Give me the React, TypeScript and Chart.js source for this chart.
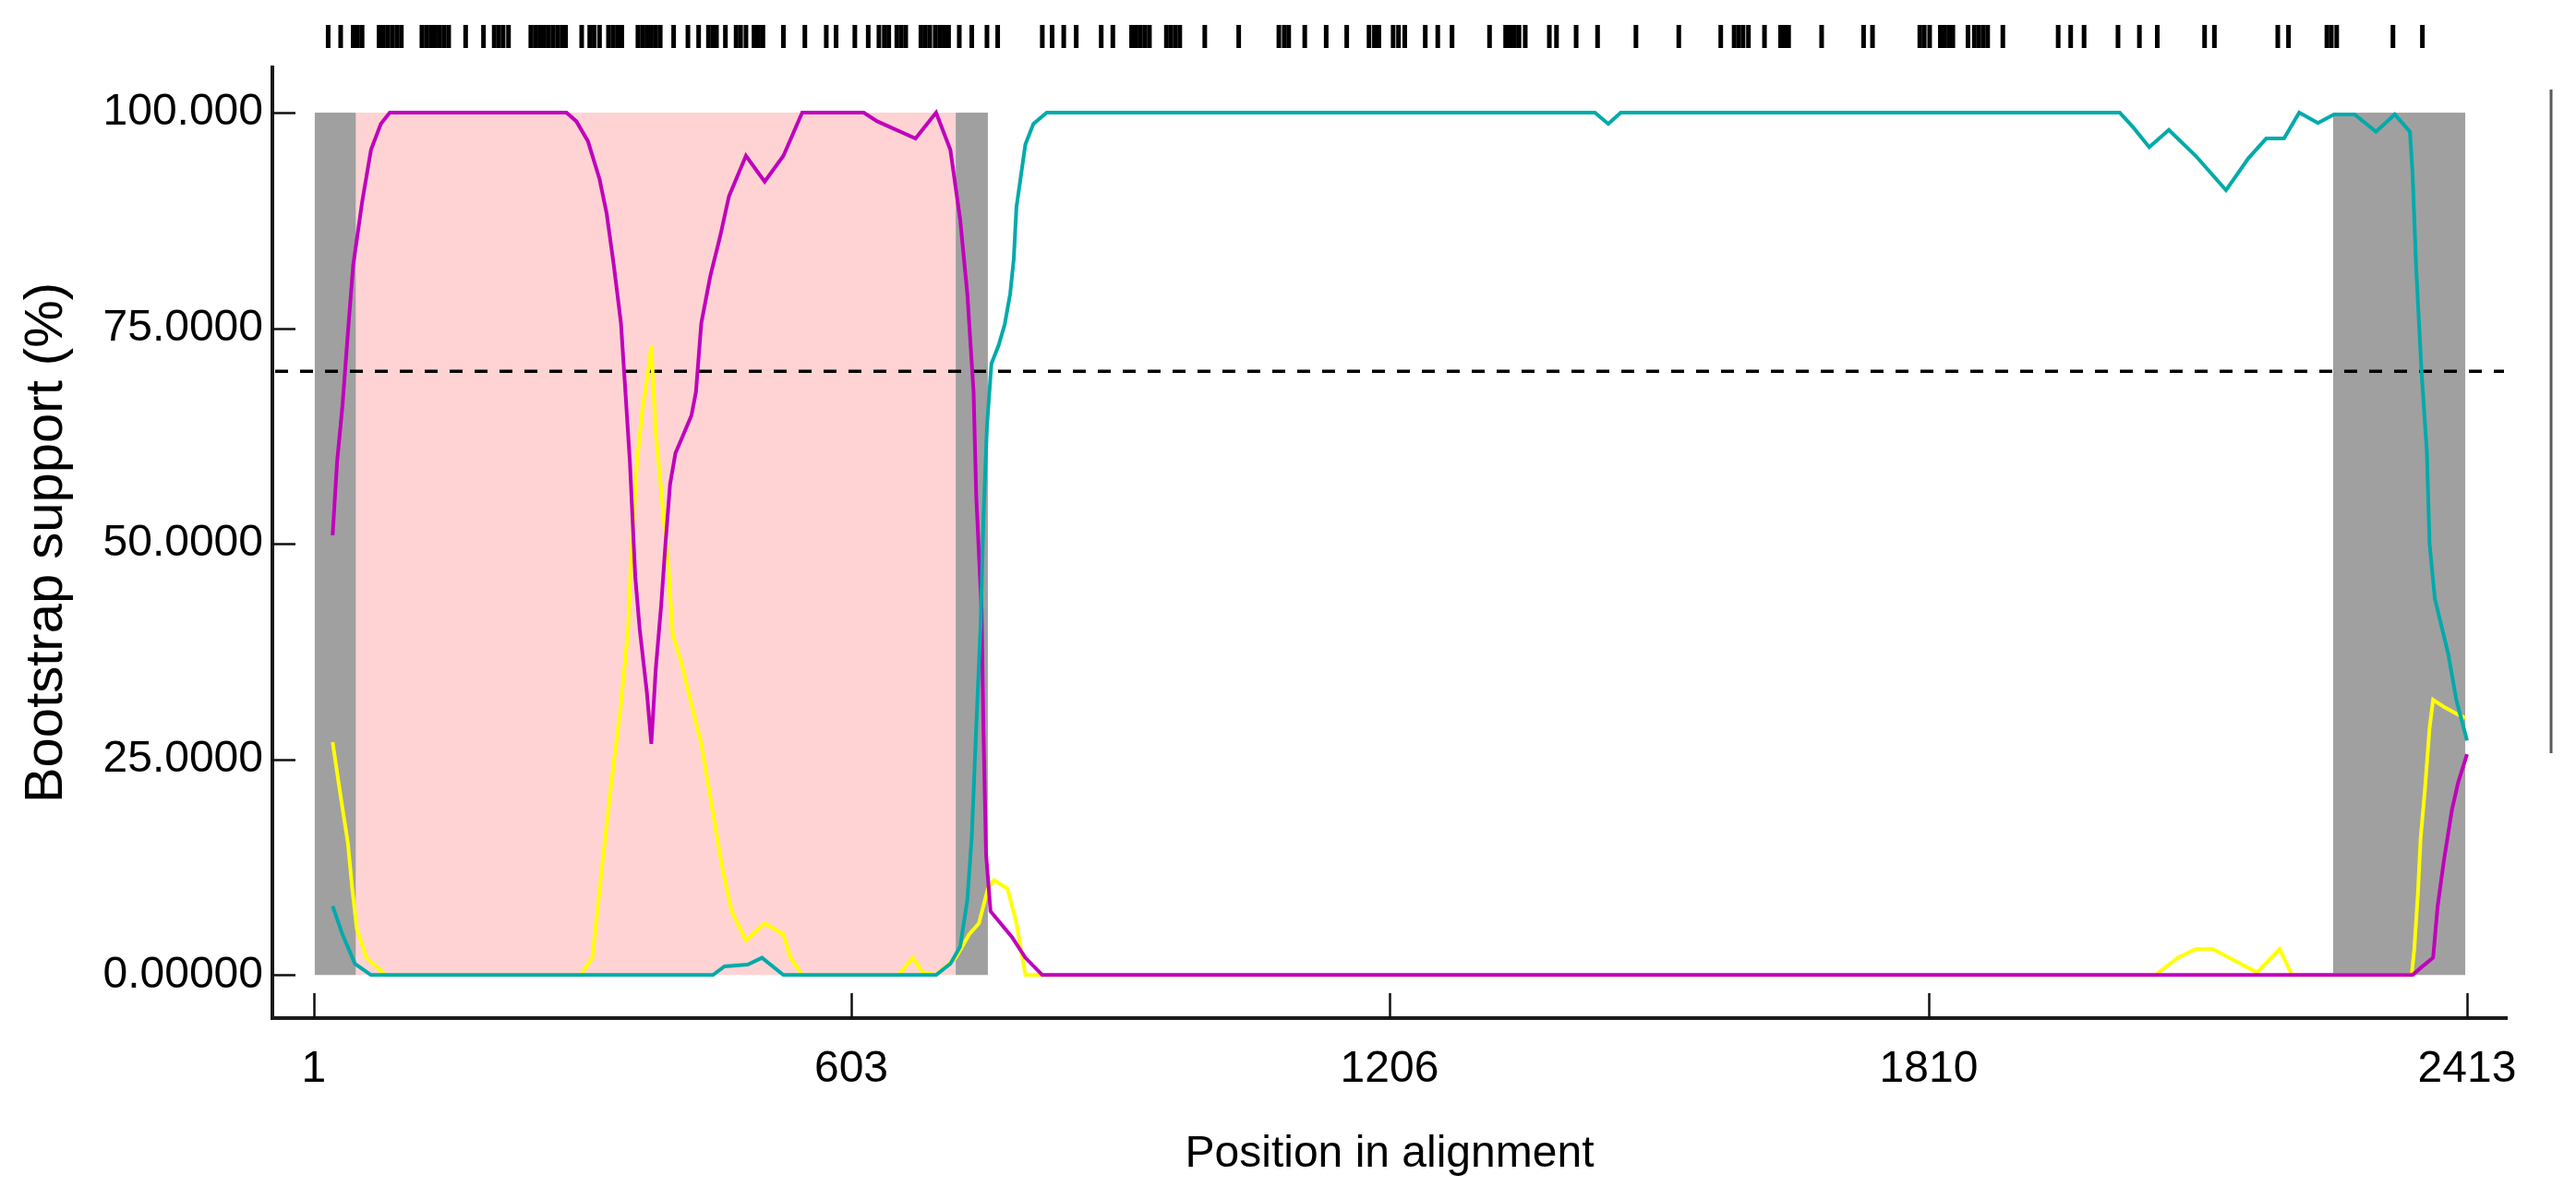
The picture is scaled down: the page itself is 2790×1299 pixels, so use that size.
import React, { useEffect, useRef } from 'react';
import { Chart, registerables } from 'chart.js';

Chart.register(...registerables);

// ---- Data ----
const purplePos = [22, 27, 33, 39, 45, 55, 65, 76, 86, 284, 295, 308, 321, 329, 337, 345, 350, 355, 361, 366, 374, 379, 384, 390, 395, 400, 406, 413, 424, 429, 435, 445, 456, 466, 485, 506, 527, 548, 617, 632, 675, 698, 714, 725, 733, 740, 743, 749, 751, 754, 759, 783, 798, 817, 2352, 2362, 2375, 2380, 2387, 2396, 2403, 2413];
const purpleVals = [51, 59.5, 66, 74.3, 82.3, 89.6, 95.7, 98.7, 100, 100, 99, 96.7, 92.3, 88.3, 82.3, 75.6, 67.6, 59.5, 46.2, 40.1, 32.8, 26.8, 35.5, 42.8, 50.2, 56.9, 60.5, 62.2, 64.9, 67.6, 75.6, 81, 85.6, 90.3, 95, 92, 95, 100, 100, 99, 97, 100, 95.7, 87.6, 79, 67.6, 55.5, 42.2, 28.8, 14, 7.4, 4.4, 2, 0, 0, 0.9, 2, 7.9, 13.2, 19.1, 22.3, 25.6];

const cyanPos = [22, 33, 47, 65, 448, 461, 487, 503, 527, 698, 714, 725, 733, 738, 743, 748, 751, 755, 760, 768, 775, 781, 785, 788, 798, 807, 822, 1436, 1451, 1465, 2024, 2039, 2057, 2079, 2109, 2143, 2168, 2188, 2208, 2225, 2246, 2264, 2287, 2311, 2332, 2349, 2352, 2356, 2362, 2368, 2371, 2377, 2392, 2401, 2413];
const cyanVals = [8, 4.7, 1.3, 0, 0, 1, 1.2, 2, 0, 0, 1.3, 3.3, 8.7, 16.1, 28.8, 40.8, 52.8, 63.6, 70.9, 73, 75.5, 79, 83, 89, 96.3, 98.7, 100, 100, 98.7, 100, 100, 98.3, 96, 98, 95, 91, 94.7, 97, 97, 100, 98.8, 99.8, 99.8, 97.8, 99.8, 97.8, 92.9, 82, 70, 60.7, 50, 43.6, 37.2, 31.9, 27.2];

const yellowPos = [22, 31, 39, 44, 49, 60, 81, 300, 313, 324, 334, 345, 353, 356, 363, 369, 374, 379, 384, 390, 398, 403, 413, 424, 435, 445, 458, 469, 485, 506, 527, 535, 548, 656, 672, 683, 698, 720, 735, 746, 756, 763, 778, 788, 798, 2064, 2089, 2109, 2128, 2178, 2203, 2217, 2351, 2354, 2358, 2361, 2366, 2371, 2375, 2387, 2401, 2411];
const yellowVals = [27, 20.7, 15.4, 10, 5.4, 2, 0, 0, 2, 12.7, 22.1, 31.4, 40.1, 47.5, 59.5, 65.6, 68.9, 72.9, 62.9, 56.2, 47.5, 39.5, 36.1, 31.4, 26.8, 20.7, 12.7, 7.4, 4, 6, 4.7, 2, 0, 0, 2, 0.3, 0, 2, 4.7, 6, 10, 11, 10, 6, 0, 0, 2, 3, 3, 0.3, 3, 0, 0, 3.1, 9.5, 15.8, 21.7, 28.6, 31.9, 31.1, 30.3, 29.8];

const informativeSites = [17, 31, 45, 50, 55, 74, 79, 84, 89, 94, 99, 122, 127, 132, 137, 142, 147, 152, 171, 191, 203, 208, 213, 219, 244, 249, 254, 259, 264, 269, 274, 279, 283, 301, 310, 315, 321, 331, 336, 341, 346, 364, 369, 374, 379, 384, 389, 404, 420, 432, 443, 448, 452, 462, 474, 479, 485, 494, 499, 504, 527, 551, 575, 586, 607, 622, 634, 640, 645, 654, 659, 664, 681, 686, 691, 697, 702, 707, 712, 724, 738, 755, 767, 817, 828, 841, 855, 883, 896, 917, 922, 927, 932, 937, 956, 961, 966, 971, 999, 1037, 1082, 1088, 1093, 1111, 1135, 1158, 1183, 1189, 1194, 1210, 1216, 1223, 1246, 1260, 1276, 1318, 1336, 1341, 1346, 1351, 1358, 1385, 1393, 1415, 1439, 1482, 1530, 1577, 1592, 1597, 1602, 1608, 1626, 1644, 1649, 1653, 1690, 1737, 1747, 1800, 1805, 1811, 1823, 1828, 1833, 1837, 1854, 1861, 1866, 1871, 1876, 1893, 1955, 1969, 1984, 2022, 2046, 2066, 2119, 2130, 2201, 2213, 2256, 2261, 2267, 2330, 2363];

const grayBands = [[2, 48], [720, 756], [2263, 2411]];
const pinkBands = [[48, 720]];
const threshold = 70;

const xTickValues = [1, 603, 1206, 1810, 2413];
const yTickValues = [0, 25, 50, 75, 100];
const yTickLabels = ['0.00000', '25.0000', '50.0000', '75.0000', '100.000'];

// ---- Styling ----
const FONT = '"Liberation Sans", Arial, sans-serif';
const PINK = '#FFD3D3';
const GRAY = '#A0A0A0';
const PURPLE = '#C000BC';
const CYAN = '#00AAAA';
const YELLOW = '#FFFF00';

const toPoints = (pos: number[], vals: number[]) => pos.map((x, i) => ({ x, y: vals[i] }));

const decorPlugin = {
  id: 'decor',
  beforeDatasetsDraw(chart: any) {
    const { ctx, chartArea, scales } = chart;
    const x = scales.x;
    const y = scales.y;
    const yTop = y.getPixelForValue(100);
    const yBot = y.getPixelForValue(0);
    ctx.save();
    ctx.fillStyle = PINK;
    for (const [a, b] of pinkBands) {
      const xa = x.getPixelForValue(a);
      const xb = x.getPixelForValue(b);
      ctx.fillRect(xa, yTop, xb - xa, yBot - yTop);
    }
    ctx.fillStyle = GRAY;
    for (const [a, b] of grayBands) {
      const xa = x.getPixelForValue(a);
      const xb = x.getPixelForValue(b);
      ctx.fillRect(xa, yTop, xb - xa, yBot - yTop);
    }
    // threshold dashed line
    const ty = y.getPixelForValue(threshold);
    ctx.strokeStyle = '#000';
    ctx.lineWidth = 3.5;
    ctx.setLineDash([14, 13]);
    ctx.beginPath();
    ctx.moveTo(chartArea.left + 3, ty);
    ctx.lineTo(chartArea.right - 3, ty);
    ctx.stroke();
    ctx.restore();
  },
  afterDraw(chart: any) {
    const { ctx, chartArea, scales } = chart;
    const x = scales.x;
    const y = scales.y;
    ctx.save();
    ctx.strokeStyle = '#111';
    ctx.lineWidth = 2.5;
    // inward ticks on x axis
    for (const v of xTickValues) {
      const px = Math.round(x.getPixelForValue(v)) + 0.5;
      ctx.beginPath();
      ctx.moveTo(px, chartArea.bottom);
      ctx.lineTo(px, chartArea.bottom - 27);
      ctx.stroke();
    }
    // inward ticks on y axis
    for (const v of yTickValues) {
      const py = Math.round(y.getPixelForValue(v)) + 0.5;
      ctx.beginPath();
      ctx.moveTo(chartArea.left, py);
      ctx.lineTo(chartArea.left + 25, py);
      ctx.stroke();
    }
    // informative sites barcode above plot
    ctx.strokeStyle = '#000';
    ctx.lineWidth = 5;
    for (const s of informativeSites) {
      const px = x.getPixelForValue(s);
      ctx.beginPath();
      ctx.moveTo(px, chartArea.top - 46);
      ctx.lineTo(px, chartArea.top - 21);
      ctx.stroke();
    }
    // right frame remnant
    ctx.strokeStyle = '#5a5a5a';
    ctx.lineWidth = 3;
    ctx.beginPath();
    ctx.moveTo(chartArea.right + 48, chartArea.top + 24);
    ctx.lineTo(chartArea.right + 48, chartArea.top + 743);
    ctx.stroke();
    ctx.restore();
  },
};

export default function App() {
  const canvasRef = useRef<HTMLCanvasElement | null>(null);

  useEffect(() => {
    document.body.style.margin = '0';
    document.body.style.overflow = 'hidden';
    const canvas = canvasRef.current;
    if (!canvas) return;
    const lineDs = (label: string, pos: number[], vals: number[], color: string) => ({
      label,
      data: toPoints(pos, vals),
      borderColor: color,
      backgroundColor: color,
      borderWidth: 4,
      pointRadius: 0,
      tension: 0,
      fill: false,
    });
    // Chart.js paints the first dataset on top: cyan over purple over yellow.
    const chart = new Chart(canvas, {
      type: 'line',
      data: {
        datasets: [
          lineDs('cyan', cyanPos, cyanVals, CYAN),
          lineDs('purple', purplePos, purpleVals, PURPLE),
          lineDs('yellow', yellowPos, yellowVals, YELLOW),
        ],
      },
      options: {
        animation: false,
        responsive: false,
        devicePixelRatio: 1,
        parsing: false as any,
        normalized: true,
        layout: { padding: { left: 0, right: 75, top: 73, bottom: 0 } },
        plugins: {
          legend: { display: false },
          tooltip: { enabled: false },
        },
        scales: {
          x: {
            type: 'linear',
            min: -45.5,
            max: 2457.5,
            afterBuildTicks: (s: any) => {
              s.ticks = xTickValues.map((v) => ({ value: v }));
            },
            afterFit: (s: any) => {
              s.height = 196;
            },
            ticks: {
              autoSkip: false,
              maxRotation: 0,
              padding: 27,
              color: '#000',
              font: { size: 48, family: FONT },
              callback: (v: any) => String(v),
            },
            grid: { display: true, drawOnChartArea: false, drawTicks: false },
            border: { display: true, width: 4, color: '#1a1a1a' },
            title: {
              display: true,
              text: 'Position in alignment',
              color: '#000',
              font: { size: 48, family: FONT },
              padding: { top: 0, bottom: 19 },
            },
          },
          y: {
            type: 'linear',
            min: -5,
            max: 105.25,
            afterBuildTicks: (s: any) => {
              s.ticks = yTickValues.map((v) => ({ value: v }));
            },
            afterFit: (s: any) => {
              s.width = 295;
            },
            ticks: {
              autoSkip: false,
              padding: 10,
              color: '#000',
              font: { size: 48, family: FONT },
              callback: (v: any) => {
                const i = yTickValues.indexOf(Number(v));
                return i >= 0 ? yTickLabels[i] : '';
              },
            },
            grid: { display: true, drawOnChartArea: false, drawTicks: false },
            border: { display: true, width: 4, color: '#1a1a1a' },
            title: {
              display: true,
              text: 'Bootstrap support (%)',
              color: '#000',
              font: { size: 58, family: FONT },
              padding: { top: 16, bottom: 0 },
            },
          },
        },
      },
      plugins: [decorPlugin],
    } as any);
    return () => {
      chart.destroy();
    };
  }, []);

  return (
    <div style={{ width: 2790, height: 1299, background: '#fff' }}>
      <canvas ref={canvasRef} width={2790} height={1299} style={{ display: 'block' }} />
    </div>
  );
}
